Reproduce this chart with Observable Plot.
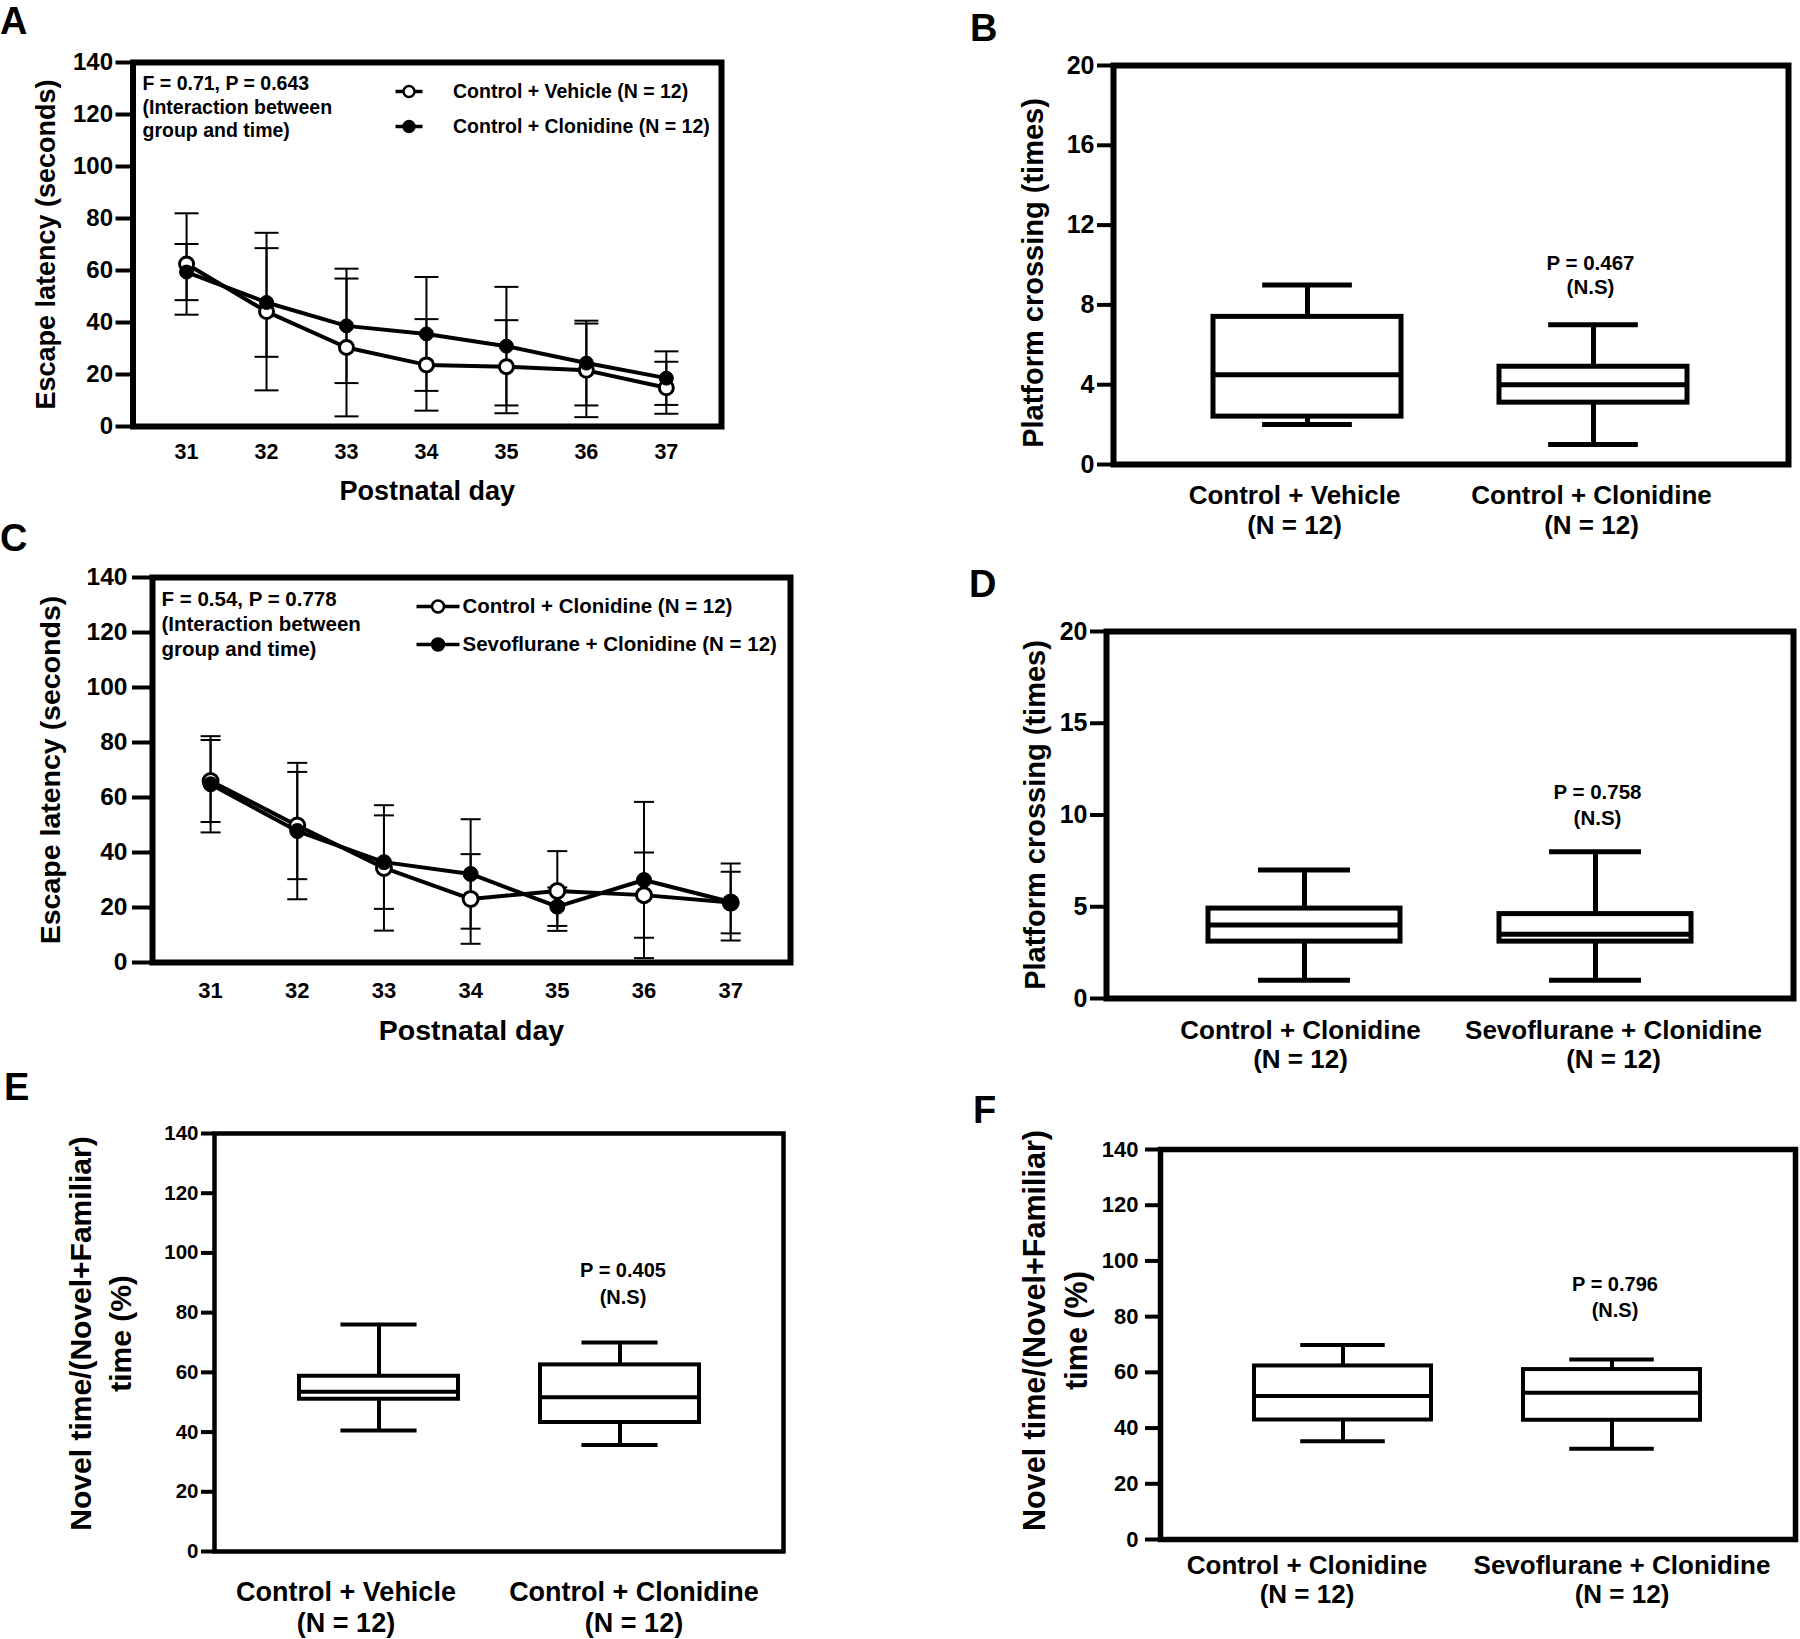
<!DOCTYPE html>
<html>
<head>
<meta charset="utf-8">
<script src="https://cdn.jsdelivr.net/npm/d3@7"></script>
<script src="https://cdn.jsdelivr.net/npm/@observablehq/plot@0.6"></script>
<style>
  body { margin: 0; background: #fff; }
  #fig { position: relative; width: 1800px; height: 1639px; background: #fff; overflow: hidden;
         font-family: "Liberation Sans", Arial, Helvetica, sans-serif; color: #000; }
  .panel { position: absolute; }
  .letter { position: absolute; font-weight: bold; font-size: 38px; line-height: 1; }
</style>
</head>
<body>
<div id="fig"></div>
<script>
// ---------------- DATA ----------------
const days = [31, 32, 33, 34, 35, 36, 37];
const latencyTicks = [0, 20, 40, 60, 80, 100, 120, 140];

// Panel A: escape latency, mean ± SD
const aSeries = ["Control + Vehicle (N = 12)", "Control + Clonidine (N = 12)"];
const aVehicleMean = [62.5, 44.2, 30.4, 23.7, 23.0, 21.6, 14.9];
const aVehicleSD = [19.5, 30.3, 26.5, 17.6, 17.9, 18.0, 10.0];
const aClonidineMean = [59.4, 47.7, 38.7, 35.6, 30.9, 24.4, 18.6];
const aClonidineSD = [10.8, 20.9, 22.0, 21.9, 22.8, 16.3, 10.3];
const aStats = "F = 0.71, P = 0.643\n(Interaction between\ngroup and time)";

// Panel C: escape latency, mean ± SD
const cSeries = ["Control + Clonidine (N = 12)", "Sevoflurane + Clonidine (N = 12)"];
const cClonidineMean = [66.0, 49.8, 34.4, 23.1, 26.0, 24.5, 21.8];
const cClonidineSD = [14.9, 19.5, 22.8, 16.3, 14.5, 15.5, 11.2];
const cSevoMean = [64.8, 47.8, 36.5, 32.2, 20.3, 30.0, 22.0];
const cSevoSD = [17.5, 24.8, 17.0, 19.9, 7.0, 28.4, 14.0];
const cStats = "F = 0.54, P = 0.778\n(Interaction between\ngroup and time)";

const latencyTitle = "Escape latency (seconds)";
const dayTitle = "Postnatal day";
const nLabel = "(N = 12)";

// Panel B: platform crossing (box: min, q1, median, q3, max)
const bGroups = ["Control + Vehicle", "Control + Clonidine"];
const bMin = [2, 1];
const bQ1 = [2.4, 3.1];
const bMedian = [4.5, 4.0];
const bQ3 = [7.4, 4.9];
const bMax = [9, 7];
const bTicks = [0, 4, 8, 12, 16, 20];
const bP = "P = 0.467\n(N.S)";

// Panel D
const dGroups = ["Control + Clonidine", "Sevoflurane + Clonidine"];
const dMin = [1, 1];
const dQ1 = [3.1, 3.1];
const dMedian = [4.0, 3.5];
const dQ3 = [4.9, 4.6];
const dMax = [7, 8];
const dTicks = [0, 5, 10, 15, 20];
const dP = "P = 0.758\n(N.S)";

const crossingTitle = "Platform crossing (times)";

// Panel E: novel object preference (%)
const eGroups = ["Control + Vehicle", "Control + Clonidine"];
const eMin = [40.5, 35.7];
const eQ1 = [51.0, 43.2];
const eMedian = [53.5, 51.7];
const eQ3 = [58.7, 62.5];
const eMax = [76, 70];
const eP = "P = 0.405\n(N.S)";

// Panel F
const fGroups = ["Control + Clonidine", "Sevoflurane + Clonidine"];
const fMin = [35.3, 32.6];
const fQ1 = [42.9, 42.8];
const fMedian = [51.5, 52.7];
const fQ3 = [62.3, 61.0];
const fMax = [69.8, 64.6];
const fP = "P = 0.796\n(N.S)";

const novelTicks = [0, 20, 40, 60, 80, 100, 120, 140];
const novelTitle = "Novel time/(Novel+Familiar)\ntime (%)";

// ---------------- HELPERS ----------------
const fig = document.getElementById("fig");
const FONT = "'Liberation Sans', Arial, Helvetica, sans-serif";
const baseStyle = {background: "transparent", overflow: "visible", fontFamily: FONT, fontWeight: "bold", color: "black", maxWidth: "none"};

// horizontal-line symbol (error-bar caps, legend line)
const hLine = {draw(ctx, size) { const w = Math.sqrt(size / Math.PI); ctx.moveTo(-w, 0); ctx.lineTo(w, 0); }};

function place(svg, left, top) {
  const d = document.createElement("div");
  d.className = "panel";
  d.style.left = left + "px";
  d.style.top = top + "px";
  d.appendChild(svg);
  fig.appendChild(d);
}
function letter(t, left, top) {
  const d = document.createElement("div");
  d.className = "letter";
  d.textContent = t;
  d.style.left = left + "px";
  d.style.top = top + "px";
  fig.appendChild(d);
}
function margins(box, f) {
  return {
    width: box.w, height: box.h,
    marginLeft: f.l - box.x, marginRight: box.x + box.w - f.r,
    marginTop: f.t - box.y, marginBottom: box.y + box.h - f.b
  };
}

function linePanel(o) {
  const rows = [];
  o.series.forEach((s) => s.mean.forEach((m, i) => rows.push({
    series: s.name, open: s.open, day: days[i], mean: m, lo: m - s.sd[i], hi: m + s.sd[i]
  })));
  const legendMarks = o.series.flatMap((s, i) => [
    Plot.dot([s], {frameAnchor: "top-left", dx: o.leg.symX, dy: o.leg.rowY[i], symbol: hLine, r: o.leg.half, stroke: "black", strokeWidth: 3.5, fill: "none"}),
    Plot.dot([s], {frameAnchor: "top-left", dx: o.leg.symX, dy: o.leg.rowY[i], r: o.leg.r, fill: s.open ? "white" : "black", stroke: "black", strokeWidth: 2.5}),
    Plot.text([s], {frameAnchor: "top-left", dx: o.leg.textX, dy: o.leg.rowY[i], text: "name", textAnchor: "start", lineAnchor: "middle", fontSize: o.leg.fs})
  ]);
  const svg = Plot.plot({
    ...margins(o.box, o.frame),
    style: baseStyle,
    x: {domain: [30.33, 37.69], label: null},
    y: {domain: [0, 140], label: null},
    marks: [
      Plot.frame({strokeWidth: 6}),
      Plot.axisY({ticks: latencyTicks, tickSize: o.yTickSize, tickPadding: o.yTickPad, fontSize: o.yTickFS, strokeWidth: 4, label: null}),
      Plot.axisX({ticks: days, tickSize: 0, tickPadding: o.xTickPad, fontSize: o.xTickFS, tickFormat: (d) => String(d), label: null}),
      Plot.ruleX(rows, {x: "day", y1: "lo", y2: "hi", strokeWidth: 2}),
      Plot.dot(rows, {x: "day", y: "lo", symbol: hLine, r: o.capHalf, stroke: "black", strokeWidth: 2, fill: "none"}),
      Plot.dot(rows, {x: "day", y: "hi", symbol: hLine, r: o.capHalf, stroke: "black", strokeWidth: 2, fill: "none"}),
      Plot.line(rows, {x: "day", y: "mean", z: "series", stroke: "black", strokeWidth: 4}),
      Plot.dot(rows.filter((d) => d.open), {x: "day", y: "mean", r: o.markerR, fill: "white", stroke: "black", strokeWidth: 3}),
      Plot.dot(rows.filter((d) => !d.open), {x: "day", y: "mean", r: o.markerR, fill: "black", stroke: "black", strokeWidth: 1}),
      Plot.text([o.stats], {frameAnchor: "top-left", text: (d) => d, textAnchor: "start", lineAnchor: "top", dx: o.statsDx, dy: o.statsDy, fontSize: o.statsFS, lineHeight: o.statsLH}),
      ...legendMarks,
      Plot.text([dayTitle], {frameAnchor: "bottom", text: (d) => d, textAnchor: "middle", lineAnchor: "bottom", dy: o.xTitleDy, fontSize: o.titleFS}),
      Plot.text([latencyTitle], {frameAnchor: "left", text: (d) => d, rotate: -90, textAnchor: "middle", lineAnchor: "middle", dx: o.yTitleDx, fontSize: o.titleFS})
    ]
  });
  place(svg, o.box.x, o.box.y);
}

function boxPanel(o) {
  const rows = o.groups.map((g, i) => ({group: g, min: o.min[i], q1: o.q1[i], median: o.median[i], q3: o.q3[i], max: o.max[i]}));
  const frameW = o.frame.r - o.frame.l;
  const pi = 0.341, po = 0.347;
  const step = frameW / (2 - pi + 2 * po);
  const bw = step * (1 - pi);
  const capInset = bw * 0.26;
  const sw = o.sw;
  const svg = Plot.plot({
    ...margins(o.box, o.frame),
    style: baseStyle,
    x: {domain: o.groups, paddingInner: pi, paddingOuter: po, align: 0.5, axis: null, label: null},
    y: {domain: o.yDomain, label: null},
    marks: [
      Plot.frame({strokeWidth: o.frameSW}),
      Plot.axisY({ticks: o.ticks, tickSize: o.tickSize, tickPadding: o.tickPad, fontSize: o.tickFS, strokeWidth: 4, label: null}),
      Plot.ruleX(rows, {x: "group", y1: "min", y2: "q1", strokeWidth: sw}),
      Plot.ruleX(rows, {x: "group", y1: "q3", y2: "max", strokeWidth: sw}),
      Plot.tickY(rows, {x: "group", y: "min", strokeWidth: sw, insetLeft: capInset, insetRight: capInset}),
      Plot.tickY(rows, {x: "group", y: "max", strokeWidth: sw, insetLeft: capInset, insetRight: capInset}),
      Plot.barY(rows, {x: "group", y1: "q1", y2: "q3", fill: "white", stroke: "black", strokeWidth: sw}),
      Plot.tickY(rows, {x: "group", y: "median", strokeWidth: sw}),
      ...rows.map((r, i) => Plot.text([r], {x: "group", frameAnchor: "bottom", text: (d) => d.group + "\n" + nLabel, lineAnchor: "top", textAnchor: "middle", dx: o.catDx[i], dy: o.catDy, fontSize: o.catFS, lineHeight: o.catLH})),
      Plot.text([rows[1]], {x: "group", frameAnchor: "top", text: () => o.pText, lineAnchor: "top", textAnchor: "middle", dx: o.pDx, dy: o.pDy, fontSize: o.pFS, lineHeight: o.pLH}),
      Plot.text([o.title], {frameAnchor: "left", text: (d) => d, rotate: -90, textAnchor: "middle", lineAnchor: o.titleAnchor, dx: o.titleDx, dy: o.titleDy, fontSize: o.titleFS, lineHeight: o.titleLH})
    ]
  });
  place(svg, o.box.x, o.box.y);
}

// ---------------- PANELS ----------------
linePanel({
  box: {x: 0, y: 0, w: 740, h: 520},
  frame: {l: 132.5, r: 721, t: 62, b: 426},
  series: [
    {name: aSeries[0], open: true, mean: aVehicleMean, sd: aVehicleSD},
    {name: aSeries[1], open: false, mean: aClonidineMean, sd: aClonidineSD}
  ],
  yTickSize: 17, yTickPad: 3, yTickFS: 24,
  xTickPad: 17, xTickFS: 21.5,
  capHalf: 12, markerR: 7,
  stats: aStats, statsDx: 9.5, statsDy: 11, statsFS: 19.5, statsLH: 1.2,
  leg: {symX: 276, textX: 320, rowY: [29, 64], half: 13.5, r: 5.5, fs: 19.5},
  xTitleDy: 73, yTitleDx: -87, titleFS: 27
});

linePanel({
  box: {x: 0, y: 540, w: 800, h: 520},
  frame: {l: 152, r: 790, t: 577, b: 962},
  series: [
    {name: cSeries[0], open: true, mean: cClonidineMean, sd: cClonidineSD},
    {name: cSeries[1], open: false, mean: cSevoMean, sd: cSevoSD}
  ],
  yTickSize: 20, yTickPad: 5, yTickFS: 24.5,
  xTickPad: 20, xTickFS: 22,
  capHalf: 10, markerR: 7.5,
  stats: cStats, statsDx: 9, statsDy: 10, statsFS: 20.5, statsLH: 1.24,
  leg: {symX: 285.5, textX: 310, rowY: [29, 67], half: 21.5, r: 6, fs: 20.5},
  xTitleDy: 77.5, yTitleDx: -101.5, titleFS: 28.5
});

boxPanel({
  box: {x: 960, y: 0, w: 840, h: 560},
  frame: {l: 1113, r: 1788, t: 65, b: 464},
  groups: bGroups, min: bMin, q1: bQ1, median: bMedian, q3: bQ3, max: bMax,
  yDomain: [0, 20], ticks: bTicks, tickSize: 16, tickPad: 3, tickFS: 25,
  frameSW: 6, sw: 5,
  catDx: [-13, -2], catDy: 17.4, catFS: 26, catLH: 1.17,
  pText: bP, pDx: -3, pDy: 188, pFS: 20.5, pLH: 1.15,
  title: crossingTitle, titleAnchor: "middle", titleDx: -82, titleDy: 8, titleFS: 29, titleLH: 1.2
});

boxPanel({
  box: {x: 960, y: 560, w: 840, h: 520},
  frame: {l: 1106, r: 1793, t: 631, b: 998},
  groups: dGroups, min: dMin, q1: dQ1, median: dMedian, q3: dQ3, max: dMax,
  yDomain: [0, 20], ticks: dTicks, tickSize: 16, tickPad: 3, tickFS: 25,
  frameSW: 6, sw: 5,
  catDx: [-4, 18], catDy: 19.5, catFS: 26, catLH: 1.13,
  pText: dP, pDx: 2, pDy: 149, pFS: 20.5, pLH: 1.27,
  title: crossingTitle, titleAnchor: "middle", titleDx: -73, titleDy: 0, titleFS: 29, titleLH: 1.2
});

boxPanel({
  box: {x: 0, y: 1060, w: 800, h: 579},
  frame: {l: 214, r: 783, t: 1133, b: 1551},
  groups: eGroups, min: eMin, q1: eQ1, median: eMedian, q3: eQ3, max: eMax,
  yDomain: [0, 140], ticks: novelTicks, tickSize: 13, tickPad: 3, tickFS: 20.5,
  frameSW: 4.5, sw: 4,
  catDx: [-33, 14], catDy: 27, catFS: 27, catLH: 1.15,
  pText: eP, pDx: 3, pDy: 124, pFS: 20, pLH: 1.35,
  title: novelTitle, titleAnchor: "top", titleDx: -152, titleDy: -9, titleFS: 30, titleLH: 1.33
});

boxPanel({
  box: {x: 960, y: 1080, w: 840, h: 559},
  frame: {l: 1160, r: 1795, t: 1149, b: 1539},
  groups: fGroups, min: fMin, q1: fQ1, median: fMedian, q3: fQ3, max: fMax,
  yDomain: [0, 140], ticks: novelTicks, tickSize: 15, tickPad: 7, tickFS: 22,
  frameSW: 5.5, sw: 4,
  catDx: [-36, 10], catDy: 13, catFS: 26, catLH: 1.14,
  pText: fP, pDx: 3, pDy: 123, pFS: 20, pLH: 1.3,
  title: novelTitle, titleAnchor: "top", titleDx: -145, titleDy: -14, titleFS: 30.5, titleLH: 1.38
});

// panel letters
letter("A", 0, 2);
letter("B", 970, 9);
letter("C", 0, 519);
letter("D", 969, 565);
letter("E", 4, 1068);
letter("F", 973, 1091);
</script>
</body>
</html>
